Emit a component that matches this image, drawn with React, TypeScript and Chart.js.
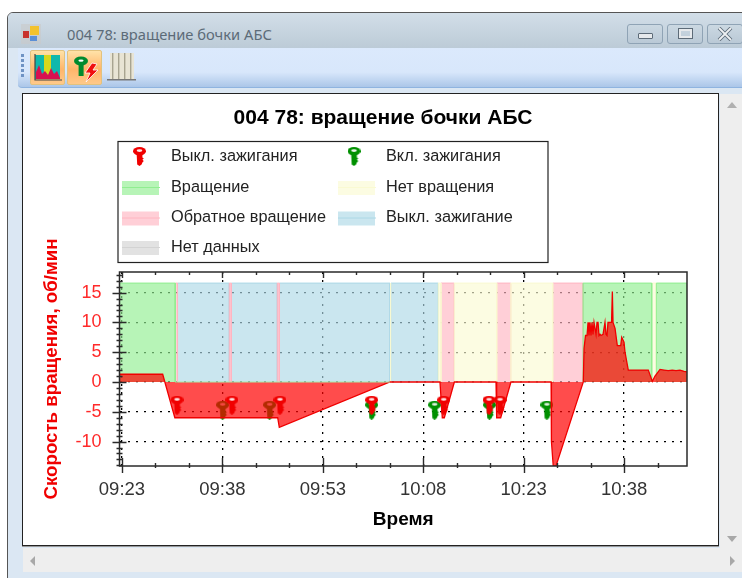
import React, { useEffect, useRef } from "react";
import { Chart, registerables } from "chart.js";

Chart.register(...registerables);

const chartTitle = "004 78: вращение бочки АБС";
const windowTitle = "004 78: вращение бочки АБС";
const yAxisTitle = "Скорость вращения, об/мин";
const xAxisTitle = "Время";

// x values are minutes after 09:00
const xTickMinutes = [23, 28, 33, 38, 43, 48, 53, 58, 63, 68, 73, 78, 83, 88, 93, 98, 103];
const yTickValues = [-14, -13, -12, -11, -10, -9, -8, -7, -6, -5, -4, -3, -2, -1, 0, 1, 2, 3, 4, 5, 6, 7, 8, 9, 10, 11, 12, 13, 14, 15, 16, 17, 18];

const speedMinutes = [22.63, 29.08, 30.9, 46.26, 46.5, 63.03, 70.5, 70.85, 71.15, 72.65, 78.87, 78.97, 79.57, 81.1, 87.1, 87.15, 87.42, 87.83, 91.91, 92.02, 92.24, 92.47, 92.62, 92.76, 92.91, 93.06, 93.21, 93.36, 93.51, 93.81, 93.96, 94.11, 94.26, 94.41, 94.56, 94.86, 95.15, 95.3, 95.45, 95.6, 96.13, 96.25, 96.35, 96.65, 96.99, 97.5, 97.65, 97.99, 98.14, 98.63, 101.62, 102.22, 102.62, 103.37, 103.97, 104.6, 105.2, 105.76, 106.36, 106.96, 107.4];
const speedValues = [1.3, 1.3, -6, -6, -7.6, 0, 0, -6, -6, 0, 0, -6, -6, 0, 0, -10, -14.1, -14.1, 0, 5.6, 7.8, 7.8, 10, 7.8, 10, 7.8, 10, 8, 10, 8, 10, 10, 7.8, 8, 7.8, 8, 10, 8, 7.8, 10, 10, 15.2, 10, 9, 6.1, 6.1, 7.5, 6.7, 5, 2, 2, 0.1, 1, 2.1, 2, 1.9, 2, 1.9, 2, 1.8, 1.7];

const bandTop = 16.6;
const rotationRanges = [[22.63, 30.95], [91.87, 102.13], [102.82, 107.4]];
const noRotationRanges = [[63.04, 63.18], [70.25, 70.65], [72.64, 78.98], [81.07, 87.34], [102.13, 102.82]];
const reverseRanges = [[30.95, 31.3], [39.03, 39.33], [46.2, 46.5], [70.65, 72.64], [78.98, 81.07], [87.34, 91.87]];
const ignitionOffRanges = [[31.3, 39.03], [39.33, 46.2], [46.5, 63.04], [63.18, 70.25]];
const zeroStatusRange = [30.95, 63.04];

const keyOffMinutes = [31.22, 39.43, 46.6, 60.3, 71.06, 77.83, 79.47];
const keyOffValue = -3.9;
const keyOnMinutes = [38.04, 45.06, 60.3, 69.71, 77.9, 86.47];
const keyOnValue = -4.73;

const legendLabels = ["Выкл. зажигания", "Вкл. зажигания", "Вращение", "Нет вращения", "Обратное вращение", "Выкл. зажигание", "Нет данных"];

const bandFill = {
  green: "rgba(144,238,144,0.65)",
  yellow: "rgba(250,250,210,0.65)",
  pink: "rgba(255,182,193,0.65)",
  blue: "rgba(173,216,230,0.65)",
  grey: "rgba(211,211,211,0.65)",
};
const bandLine = {
  green: "rgb(144,238,144)",
  yellow: "rgb(250,250,210)",
  pink: "rgb(255,182,193)",
  blue: "rgb(173,216,230)",
  grey: "rgb(211,211,211)",
};

const FONT = '"Liberation Sans", Arial, sans-serif';
const isMajorX = (v: number) => (v - 23) % 15 === 0;
const isMajorY = (v: number) => v % 5 === 0;
const clock = (m: number) => {
  const h = 9 + Math.floor(m / 60);
  const mm = Math.round(m % 60);
  return `${String(h).padStart(2, "0")}:${String(mm).padStart(2, "0")}`;
};

function bandPoints(ranges: number[][]) {
  const pts: { x: number; y: number | null }[] = [];
  ranges.forEach(([a, b]) => {
    pts.push({ x: a, y: 0 }, { x: a, y: bandTop }, { x: b, y: bandTop }, { x: b, y: 0 }, { x: b, y: null });
  });
  return pts;
}

function makeKey(color: string) {
  const c = document.createElement("canvas");
  c.width = 13;
  c.height = 19;
  const g = c.getContext("2d")!;
  g.fillStyle = color;
  g.beginPath();
  g.ellipse(6.5, 4.2, 6.5, 4.2, 0, 0, Math.PI * 2);
  g.fill();
  g.beginPath();
  g.moveTo(3.6, 6);
  g.lineTo(9.4, 6);
  g.lineTo(9.4, 10.5);
  g.lineTo(10.8, 11.5);
  g.lineTo(9.4, 12.8);
  g.lineTo(10.8, 14);
  g.lineTo(9.4, 15.5);
  g.lineTo(8.6, 17.5);
  g.lineTo(6.5, 19);
  g.lineTo(4.2, 17.5);
  g.closePath();
  g.fill();
  g.fillStyle = "rgba(255,255,255,0.9)";
  g.beginPath();
  g.ellipse(6.5, 3.6, 2.8, 1.4, 0, 0, Math.PI * 2);
  g.fill();
  return c;
}

export default function App() {
  const ref = useRef<HTMLCanvasElement>(null);
  useEffect(() => {
    const keyRed = makeKey("#f00000");
    const keyGreen = makeKey("#009000");

    const axisFrame = {
      id: "axisFrame",
      afterDraw(chart: any) {
        const { ctx, chartArea: a, scales } = chart;
        ctx.save();
        ctx.strokeStyle = "#2a2a2a";
        ctx.lineWidth = 1.5;
        ctx.strokeRect(a.left, a.top, a.right - a.left, a.bottom - a.top);
        ctx.lineWidth = 1.4;
        ctx.beginPath();
        xTickMinutes.forEach((v) => {
          const x = Math.round(scales.x.getPixelForValue(v)) + 0.5;
          const major = isMajorX(v);
          ctx.moveTo(x, a.bottom + (major ? 7 : 2));
          ctx.lineTo(x, a.bottom - (major ? 8 : 3));
          ctx.moveTo(x, a.top);
          ctx.lineTo(x, a.top + (major ? 6 : 3));
        });
        yTickValues.forEach((v) => {
          const y = Math.round(scales.y.getPixelForValue(v)) + 0.5;
          const major = isMajorY(v);
          ctx.moveTo(a.left - (major ? 7 : 3), y);
          ctx.lineTo(a.left + (major ? 7 : 3), y);
        });
        ctx.stroke();
        ctx.restore();
      },
    };

    const boxLegend = {
      id: "boxLegend",
      afterDraw(chart: any) {
        const { ctx } = chart;
        const ox = 23;
        const oy = 94;
        ctx.save();
        ctx.strokeStyle = "#222";
        ctx.lineWidth = 1.2;
        ctx.strokeRect(118 - ox, 141.5 - oy, 430, 121);
        ctx.font = `16.3px ${FONT}`;
        ctx.fillStyle = "#222";
        ctx.textBaseline = "middle";
        const cols = [171, 386];
        const swatchX = [122, 338];
        const keyX = [139.5, 354];
        const rows = [156.5, 187, 217.5, 247];
        const swatches: (keyof typeof bandFill | null)[] = [null, null, "green", "yellow", "pink", "blue", "grey"];
        legendLabels.forEach((label, i) => {
          const col = i % 2;
          const rowIndex = Math.floor(i / 2);
          const y = rows[rowIndex] - oy;
          const s = swatches[i];
          if (s) {
            ctx.fillStyle = bandFill[s];
            ctx.fillRect(swatchX[col] - ox, y - 6, 37, 14);
            ctx.strokeStyle = bandLine[s];
            ctx.lineWidth = 1;
            ctx.beginPath();
            ctx.moveTo(swatchX[col] - ox, y + 0.5);
            ctx.lineTo(swatchX[col] + 38 - ox, y + 0.5);
            ctx.stroke();
          } else {
            ctx.drawImage(col === 0 ? keyRed : keyGreen, keyX[col] - ox - 6.5, y - 9.5);
          }
          ctx.fillStyle = "#222";
          ctx.fillText(label, cols[col] - ox, y + 0.5);
        });
        ctx.restore();
      },
    };

    const band = (label: string, ranges: number[][], c: keyof typeof bandFill) => ({
      type: "line" as const,
      label,
      data: bandPoints(ranges),
      fill: "origin",
      backgroundColor: bandFill[c],
      borderColor: bandLine[c],
      borderWidth: 1,
      pointRadius: 0,
      spanGaps: false,
      order: 10,
    });

    const chart = new Chart(ref.current!, {
      type: "line",
      data: {
        datasets: [
          band("Вращение", rotationRanges, "green"),
          band("Нет вращения", noRotationRanges, "yellow"),
          band("Обратное вращение", reverseRanges, "pink"),
          band("Выкл. зажигание", ignitionOffRanges, "blue"),
          {
            label: "Вкл. зажигания",
            data: keyOnMinutes.map((x) => ({ x, y: keyOnValue })),
            showLine: false,
            pointStyle: keyGreen,
            pointRadius: 9,
            order: 5,
          },
          {
            label: "Скорость",
            data: speedMinutes.map((x, i) => ({ x, y: speedValues[i] })),
            fill: "origin",
            backgroundColor: "rgba(255,0,0,0.7)",
            borderColor: "#f00000",
            borderWidth: 1.3,
            pointRadius: 0,
            tension: 0,
            order: 3,
          },
          {
            label: "Статус",
            data: zeroStatusRange.map((x) => ({ x, y: 0 })),
            borderColor: "rgb(170,235,170)",
            borderWidth: 1.2,
            pointRadius: 0,
            order: 2,
          },
          {
            label: "Выкл. зажигания",
            data: keyOffMinutes.map((x) => ({ x, y: keyOffValue })),
            showLine: false,
            pointStyle: keyRed,
            pointRadius: 9,
            order: 1,
          },
        ] as any,
      },
      options: {
        animation: false,
        responsive: false,
        layout: { padding: { left: 25, right: 0, top: 0, bottom: 0 } },
        plugins: {
          legend: { display: false },
          tooltip: { enabled: false },
          title: {
            display: true,
            text: chartTitle,
            color: "#000",
            font: { family: FONT, size: 21, weight: "bold" },
            padding: { top: 11.4, bottom: 141.4 },
          },
        },
        scales: {
          x: {
            type: "linear",
            min: 22.63,
            max: 107.4,
            afterBuildTicks: (s: any) => {
              s.ticks = xTickMinutes.map((value) => ({ value }));
            },
            afterFit: (s: any) => {
              s.height = 79;
            },
            grid: {
              drawTicks: false,
              lineWidth: 1.3,
              color: (c: any) => (c.tick && isMajorX(c.tick.value) ? "#000" : "transparent"),
            },
            border: { display: false, dash: [2, 6] },
            ticks: {
              autoSkip: false,
              maxRotation: 0,
              padding: 13,
              color: "#333",
              font: { family: FONT, size: 18.5 },
              callback: (v: any) => (isMajorX(Number(v)) ? clock(Number(v)) : ""),
            },
            title: {
              display: true,
              text: xAxisTitle,
              color: "#000",
              font: { family: FONT, size: 19, weight: "bold" },
              padding: { bottom: 13.6, top: 0 },
            },
          },
          y: {
            type: "linear",
            min: -14.1,
            max: 18.46,
            afterBuildTicks: (s: any) => {
              s.ticks = yTickValues.map((value) => ({ value }));
            },
            afterFit: (s: any) => {
              s.width = 71.5;
            },
            grid: {
              drawTicks: false,
              lineWidth: 1.3,
              color: (c: any) => (c.tick && isMajorY(c.tick.value) ? "#000" : "transparent"),
            },
            border: { display: false, dash: [2, 6] },
            ticks: {
              autoSkip: false,
              padding: 18,
              color: "#ff2a2a",
              font: { family: FONT, size: 18 },
              callback: (v: any) => (isMajorY(Number(v)) ? String(v) : ""),
            },
            title: {
              display: true,
              text: yAxisTitle,
              color: "#f00000",
              font: { family: FONT, size: 18.7, weight: "bold" },
              padding: { top: -7.2, bottom: 0 },
            },
          },
          rightMargin: {
            type: "linear",
            position: "right",
            afterFit: (s: any) => {
              s.width = 31;
            },
            grid: { display: false },
            border: { display: false },
            ticks: { display: false },
            title: { display: false },
          },
        },
      },
      plugins: [axisFrame, boxLegend],
    } as any);
    return () => chart.destroy();
  }, []);

  const abs = (l: number, t: number, w: number, h: number, extra: any = {}) => ({
    position: "absolute" as const, left: l, top: t, width: w, height: h, boxSizing: "border-box" as const, ...extra,
  });
  const winBtn = (l: number, glyph: React.ReactNode) => (
    <div style={abs(l, 24, 36, 20, {
      border: "1px solid #8fa3b5", borderRadius: 3,
      background: "linear-gradient(#cbd8e2,#bac9d6)",
    })}>{glyph}</div>
  );
  const hotBtn = (l: number, icon: React.ReactNode) => (
    <div style={abs(l, 50, 35, 35, {
      border: "1px solid #e2c27e", borderRadius: 2,
      background: "linear-gradient(#ffe2a8,#ffb56a 55%,#ffc98a)",
    })}>{icon}</div>
  );

  return (
    <div style={{ position: "fixed", inset: 0, overflow: "hidden", background: "#fff" }}>
      <div style={abs(7, 12, 800, 620, { border: "1px solid #555", borderRadius: "6px 0 0 0", background: "#dbe7f3" })} />
      <div style={abs(8, 13, 740, 35, { background: "linear-gradient(#d2dee8,#bccbd7)", borderRadius: "5px 0 0 0" })} />
      <svg style={abs(21, 24, 20, 20)} viewBox="0 0 20 20">
        <rect width="20" height="20" fill="#c9c9c9" opacity="0.6" />
        <rect x="9" y="2" width="9" height="9" fill="#f2c22e" />
        <rect x="2" y="7" width="6" height="7" fill="#c8322c" />
        <rect x="9" y="12" width="7" height="5" fill="#5b8fd6" />
      </svg>
      <div style={abs(67, 25, 260, 18, { font: '14.7px "Noto Sans", sans-serif', color: "#5c6b78", lineHeight: "18px", whiteSpace: "nowrap" })}>{windowTitle}</div>
      {winBtn(627, <div style={abs(10, 8, 15, 6, { background: "#e6e9ec", border: "1px solid #5d6b78", borderRadius: 1 })} />)}
      {winBtn(667, <div style={abs(10, 3, 15, 11, { border: "1px solid #5d6b78", boxShadow: "inset 0 0 0 2px #e6e9ec" })} />)}
      {winBtn(707, <svg style={abs(9, 2, 16, 14)} viewBox="0 0 16 14"><path d="M2 1 L14 13 M14 1 L2 13" stroke="#5d6b78" strokeWidth="3.6" /><path d="M2 1 L14 13 M14 1 L2 13" stroke="#eef0f2" strokeWidth="1.8" /></svg>)}

      <div style={abs(18, 48, 730, 40, { background: "linear-gradient(#dbe9fc,#d8e7fb 62%,#abc6e8)", borderBottom: "1px solid #8fb4e0", borderRadius: "0 0 0 4px" })} />
      <svg style={abs(20, 52, 6, 26)} viewBox="0 0 6 26">
        {[2, 7, 12, 17, 22].map((y) => <rect key={y} x="1" y={y} width="3" height="3" fill="#6f93c4" />)}
      </svg>
      {hotBtn(30, (
        <svg style={abs(3, 3, 28, 28)} viewBox="0 0 28 28">
          <rect x="1" y="1" width="9" height="24" fill="#10b8ac" />
          <rect x="10" y="1" width="7" height="24" fill="#d8d81e" />
          <rect x="17" y="1" width="9" height="24" fill="#10b8ac" />
          <path d="M2 25 L2 18 L5 11 L8 20 L11 17 L14 21 L17 14 L20 20 L23 17 L26 24 L26 25Z" fill="#d81050" />
          <path d="M1 0 V26 H28" fill="none" stroke="#444" strokeWidth="1.2" />
        </svg>
      ))}
      {hotBtn(67, (
        <svg style={abs(3, 3, 30, 30)} viewBox="0 0 30 30">
          <ellipse cx="10" cy="7" rx="7" ry="4.6" fill="#008a2e" />
          <ellipse cx="10" cy="6.6" rx="2.6" ry="1.2" fill="#fff" />
          <rect x="7.6" y="9" width="5" height="13" fill="#008a2e" />
          <path d="M21 9 L14 19 L19 19 L15 28 L27 16 L22 16 L26 10Z" fill="#f01010" stroke="#fff" strokeWidth="0.8" />
        </svg>
      ))}
      <svg style={abs(106, 52, 31, 30)} viewBox="0 0 31 30">
        <rect x="4" y="1" width="24" height="26" fill="#e8e4d4" />
        {[6, 12, 18, 24].map((x) => <rect key={x} x={x} y="1" width="1.4" height="26" fill="#a8a490" />)}
        <rect x="1" y="27" width="29" height="1.5" fill="#777" />
      </svg>

      <div style={abs(720, 94, 22, 454, { background: "#eeeeee" })} />
      <div style={abs(23, 548, 719, 24, { background: "#eeeeee" })} />
      <svg style={abs(727, 102, 10, 6)} viewBox="0 0 10 6"><path d="M0 6 L5 0 L10 6Z" fill="#b0b0b0" /></svg>
      <svg style={abs(727, 536, 10, 6)} viewBox="0 0 10 6"><path d="M0 0 L5 6 L10 0Z" fill="#a8a8a8" /></svg>
      <svg style={abs(30, 556, 5, 10)} viewBox="0 0 5 10"><path d="M5 0 L0 5 L5 10Z" fill="#a8a8a8" /></svg>
      <svg style={abs(730, 556, 5, 10)} viewBox="0 0 5 10"><path d="M0 0 L5 5 L0 10Z" fill="#a8a8a8" /></svg>

      <div style={abs(22, 93, 697, 453, { background: "#fff", border: "1px solid #222", boxShadow: "0 1px 0 #999" })} />
      <canvas ref={ref} width={695} height={451} style={{ position: "absolute", left: 23, top: 94, display: "block" }} />
    </div>
  );
}
